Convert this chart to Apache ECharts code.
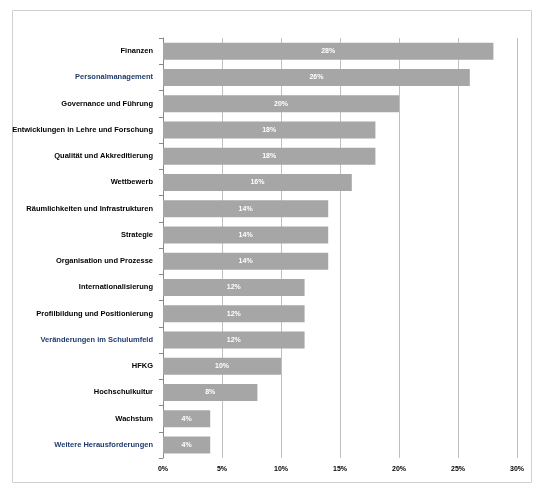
<!DOCTYPE html><html><head><meta charset="utf-8"><script src="https://cdn.jsdelivr.net/npm/echarts@6/dist/echarts.min.js"></script></head><body style="margin:0;background:#fff"><div id="c" style="width:544px;height:501px"></div><script>
const categories=["Finanzen","Personalmanagement","Governance und Führung","Entwicklungen in Lehre und Forschung","Qualität und Akkreditierung","Wettbewerb","Räumlichkeiten und Infrastrukturen","Strategie","Organisation und Prozesse","Internationalisierung","Profilbildung und Positionierung","Veränderungen im Schulumfeld","HFKG","Hochschulkultur","Wachstum","Weitere Herausforderungen"];
const values=[28,26,20,18,18,16,14,14,14,12,12,12,10,8,4,4];
const blue=new Set(["Personalmanagement","Veränderungen im Schulumfeld","Weitere Herausforderungen"]);
const ch=echarts.init(document.getElementById('c'));
ch.setOption({animation:false,
graphic:[{type:'rect',shape:{x:12.5,y:10.5,width:519,height:472},style:{fill:'none',stroke:'#d0d0d0',lineWidth:1}}],
grid:{left:163,right:27,top:38,bottom:43},
xAxis:{type:'value',min:0,max:30,interval:5,axisLabel:{formatter:'{value}%',fontSize:7,fontWeight:'bold',color:'#000',fontFamily:'Liberation Sans'},splitLine:{lineStyle:{color:'#bfbfbf'}},axisLine:{show:false},axisTick:{show:false}},
yAxis:{type:'category',inverse:true,data:categories,axisLine:{lineStyle:{color:'#888'}},axisTick:{show:true,length:4,lineStyle:{color:'#888'}},
axisLabel:{fontSize:7.5,fontWeight:'bold',fontFamily:'Liberation Sans',margin:10,color:(v)=>blue.has(v)?'#1f3b6e':'#000'}},
series:[{type:'bar',data:values,barWidth:17,itemStyle:{color:'#a6a6a6'},label:{show:true,position:'inside',formatter:'{c}%',color:'#fff',fontSize:7,fontWeight:'bold',fontFamily:'Liberation Sans'}}]});
</script></body></html>
